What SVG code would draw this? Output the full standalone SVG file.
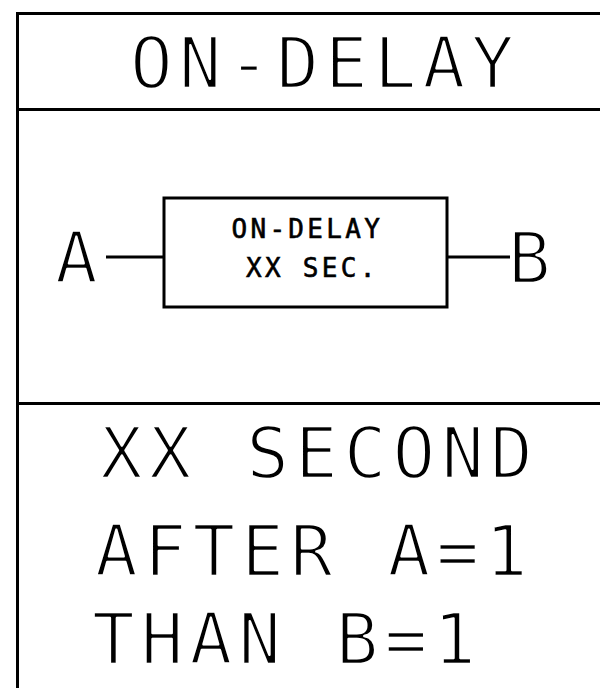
<svg xmlns="http://www.w3.org/2000/svg" width="600" height="688" viewBox="0 0 600 688">
  <style>
    .frame { fill: none; stroke: #000; stroke-width: 3; }
    .wire { fill: none; stroke: #000; stroke-width: 3; }
    .big { font-family: "DejaVu Sans Mono", "Liberation Mono", monospace; font-size: 71px; fill: #000; stroke: #fff; stroke-width: 2.4; stroke-linejoin: round; letter-spacing: 6px; }
    .small { font-family: "DejaVu Sans Mono", "Liberation Mono", monospace; font-size: 26px; fill: #000; stroke: #000; stroke-width: 0.6; letter-spacing: 3.3px; }
  </style>
  <rect width="600" height="688" fill="#fff"/>
  <g id="frame">
    <path class="frame" d="M17.5 688 V13.5 H600"/>
    <line class="frame" x1="17" y1="109.5" x2="600" y2="109.5"/>
    <line class="frame" x1="17" y1="403.5" x2="600" y2="403.5"/>
  </g>
  <g id="title">
    <text class="big" x="130" y="88">ON-DELAY</text>
  </g>
  <g id="connectors">
    <line class="wire" x1="106" y1="257" x2="164" y2="257"/>
    <line class="wire" x1="447" y1="257" x2="510" y2="257"/>
  </g>
  <g id="input-a">
    <text class="big" x="55" y="283" style="letter-spacing:0">A</text>
  </g>
  <g id="delay-block">
    <rect class="frame" x="164" y="198" width="283" height="109"/>
    <text class="small" x="231.5" y="238">ON-DELAY</text>
    <text class="small" x="246" y="277">XX SEC.</text>
  </g>
  <g id="output-b">
    <text class="big" x="508" y="283" style="letter-spacing:0">B</text>
  </g>
  <g id="description">
    <text class="big" x="100" y="478">XX SECOND</text>
    <text class="big" x="95" y="576">AFTER A=1</text>
    <text class="big" x="92" y="664">THAN B=1</text>
  </g>
</svg>
